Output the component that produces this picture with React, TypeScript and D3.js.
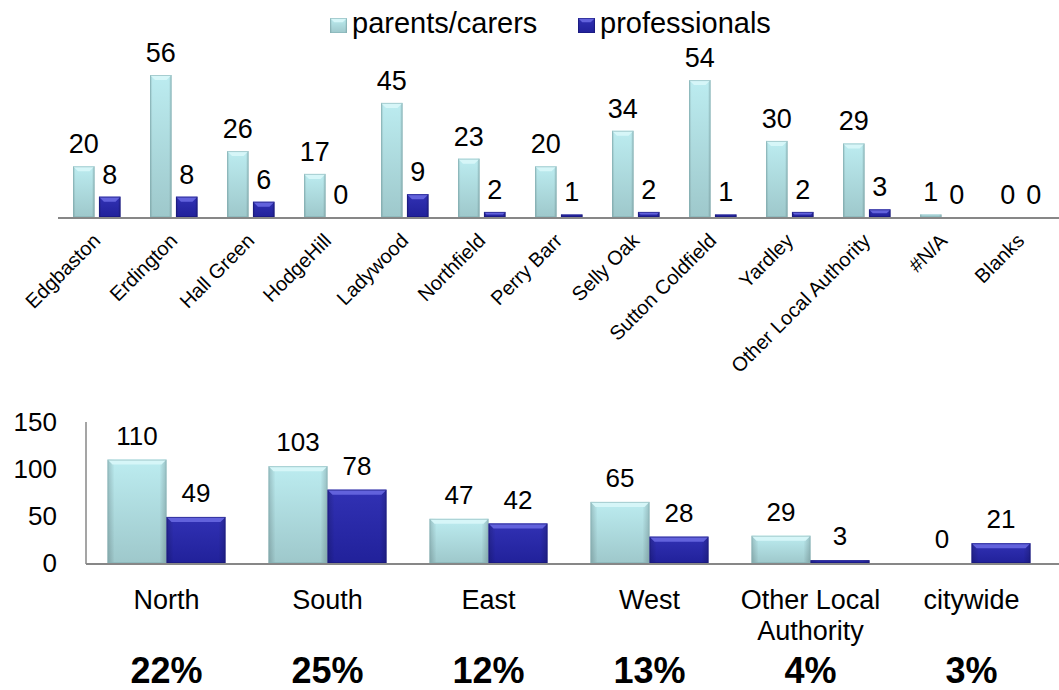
import * as d3 from "d3";

// top chart: districts
const districts = [
  "Edgbaston", "Erdington", "Hall Green", "HodgeHill", "Ladywood", "Northfield",
  "Perry Barr", "Selly Oak", "Sutton Coldfield", "Yardley", "Other Local Authority", "#N/A", "Blanks",
];
const districtParents = [20, 56, 26, 17, 45, 23, 20, 34, 54, 30, 29, 1, 0];
const districtProfessionals = [8, 8, 6, 0, 9, 2, 1, 2, 1, 2, 3, 0, 0];

// bottom chart: areas
const areas = ["North", "South", "East", "West", "Other Local\nAuthority", "citywide"];
const areaParents = [110, 103, 47, 65, 29, 0];
const areaProfessionals = [49, 78, 42, 28, 3, 21];
const areaShares = ["22%", "25%", "12%", "13%", "4%", "3%"];
const areaTicks = [0, 50, 100, 150];

const seriesKeys = ["parents/carers", "professionals"];

const W = 1059;
const H = 690;
const FONT = "'Liberation Sans', Arial, Helvetica, sans-serif";
const AXIS = "#878787";

const palette = {
  "parents/carers": { grad: "gParents", bevel: "#d6f6f8", edge: "#86b3b6" },
  professionals: { grad: "gProf", bevel: "#6262dc", edge: "#18187a" },
};

function Bar({ x, y, w, h, k }: { x: number; y: number; w: number; h: number; k: string }) {
  if (h <= 0) return null;
  const p = palette[k];
  const b = Math.min(5, h / 2, w / 4);
  return (
    <g>
      <rect x={x} y={y} width={w} height={h} fill={`url(#${p.grad})`} />
      <rect x={x} y={y} width={w} height={h} fill="url(#gSide)" />
      {h > 3 && (
        <polygon
          points={`${x},${y} ${x + w},${y} ${x + w - b},${y + b} ${x + b},${y + b}`}
          fill={p.bevel}
        />
      )}
      <rect x={x + 0.5} y={y + 0.5} width={w - 1} height={h - 1} fill="none" stroke={p.edge} strokeOpacity={0.6} />
    </g>
  );
}

export default function App() {
  // ---- top chart scales
  const tx = d3.scaleBand().domain(districts).range([58, W]).padding(0);
  const txIn = d3.scaleBand().domain(seriesKeys).range([15, 62.5]).paddingInner(0.17);
  const ty = d3.scaleLinear().domain([0, 56]).range([217, 75]);

  // ---- bottom chart scales
  const bx = d3.scaleBand().domain(areas).range([86, 1052]).padding(0);
  const bxIn = d3.scaleBand().domain(seriesKeys).range([21.5, 139.5]).padding(0);
  const by = d3.scaleLinear().domain([0, 150]).range([563, 422]);

  const topRows = districts.map((d, i) => ({ d, vals: [districtParents[i], districtProfessionals[i]] }));
  const botRows = areas.map((d, i) => ({ d, vals: [areaParents[i], areaProfessionals[i]], share: areaShares[i] }));

  return (
    <svg
      width={W}
      height={H}
      style={{ position: "absolute", left: 0, top: 0, background: "#fff" }}
      fontFamily={FONT}
    >
      <defs>
        <linearGradient id="gParents" x1="0" y1="0" x2="0" y2="1">
          <stop offset="0" stopColor="#bcecf0" />
          <stop offset="1" stopColor="#9ec8cb" />
        </linearGradient>
        <linearGradient id="gProf" x1="0" y1="0" x2="0" y2="1">
          <stop offset="0" stopColor="#3131b4" />
          <stop offset="1" stopColor="#21219a" />
        </linearGradient>
        <linearGradient id="gSide" x1="0" y1="0" x2="1" y2="0">
          <stop offset="0" stopColor="#000" stopOpacity={0.18} />
          <stop offset="0.12" stopColor="#000" stopOpacity={0} />
          <stop offset="0.88" stopColor="#000" stopOpacity={0} />
          <stop offset="1" stopColor="#000" stopOpacity={0.18} />
        </linearGradient>
      </defs>

      {/* legend */}
      <g>
        <Bar x={330} y={18} w={17} h={15} k="parents/carers" />
        <text x={352} y={33} fontSize={29}>parents/carers</text>
        <Bar x={578} y={18} w={17} h={15} k="professionals" />
        <text x={600} y={33} fontSize={29}>professionals</text>
      </g>

      {/* top chart */}
      <g>
        {topRows.map(r => (
          <g key={r.d} transform={`translate(${tx(r.d)},0)`}>
            {seriesKeys.map((k, j) => (
              <Bar key={k} k={k} x={txIn(k)} y={ty(r.vals[j])} w={txIn.bandwidth()} h={ty(0) - ty(r.vals[j])} />
            ))}
            {seriesKeys.map((k, j) => (
              <text
                key={k + "l"}
                x={txIn(k) + txIn.bandwidth() / 2}
                y={ty(r.vals[j]) - 13}
                textAnchor="middle"
                fontSize={27}
              >
                {r.vals[j]}
              </text>
            ))}
          </g>
        ))}
        <line x1={58} x2={W} y1={ty(0) + 1} y2={ty(0) + 1} stroke={AXIS} strokeWidth={2} />
        {districts.map(d => (
          <text
            key={d}
            transform={`translate(${tx(d) + tx.bandwidth() / 2 + 5},242) rotate(-45)`}
            textAnchor="end"
            fontSize={20}
          >
            {d}
          </text>
        ))}
      </g>

      {/* bottom chart */}
      <g>
        {areaTicks.map(t => (
          <text key={t} x={57} y={by(t)} dy="0.35em" textAnchor="end" fontSize={26}>
            {t}
          </text>
        ))}
        {botRows.map(r => (
          <g key={r.d} transform={`translate(${bx(r.d)},0)`}>
            {seriesKeys.map((k, j) => (
              <Bar key={k} k={k} x={bxIn(k)} y={by(r.vals[j])} w={bxIn.bandwidth()} h={by(0) - by(r.vals[j])} />
            ))}
            {seriesKeys.map((k, j) => (
              <text
                key={k + "l"}
                x={bxIn(k) + bxIn.bandwidth() / 2}
                y={by(r.vals[j]) - 15}
                textAnchor="middle"
                fontSize={26}
              >
                {r.vals[j]}
              </text>
            ))}
            {r.d.split("\n").map((line, li) => (
              <text key={line} x={bx.bandwidth() / 2} y={609 + li * 31} textAnchor="middle" fontSize={27}>
                {line}
              </text>
            ))}
            <text x={bx.bandwidth() / 2} y={683} textAnchor="middle" fontSize={36} fontWeight="bold">
              {r.share}
            </text>
          </g>
        ))}
        <line x1={86} x2={86} y1={422} y2={by(0) + 1} stroke={AXIS} strokeWidth={1.5} />
        <line x1={86} x2={W} y1={by(0) + 1} y2={by(0) + 1} stroke={AXIS} strokeWidth={2} />
      </g>
    </svg>
  );
}
